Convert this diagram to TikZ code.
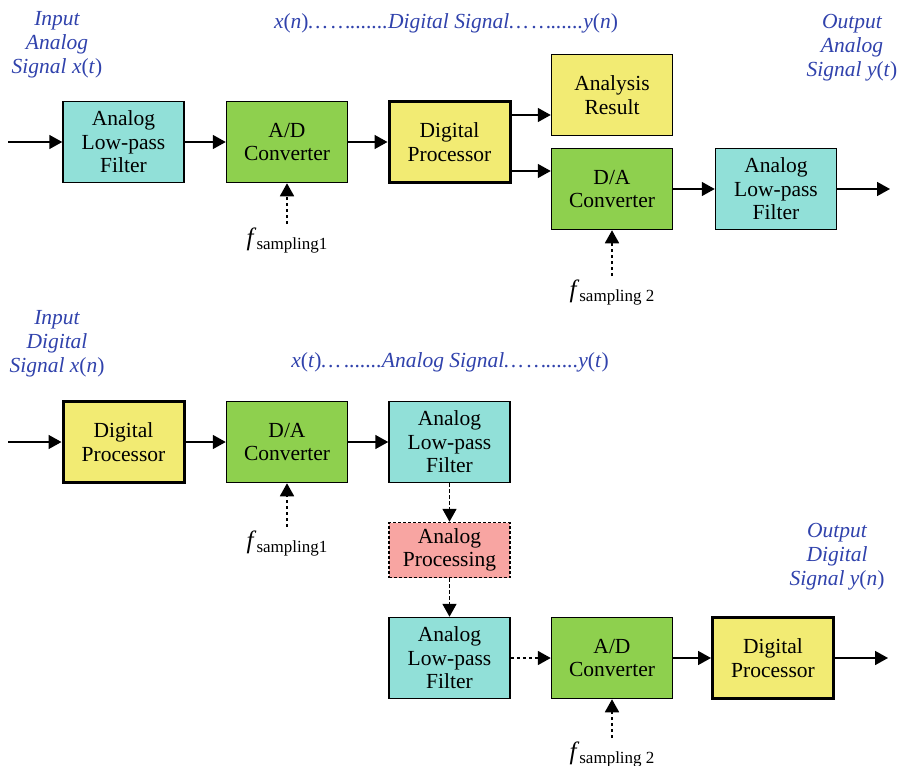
\documentclass[tikz,border=0pt]{standalone}
\usepackage{fontspec}
\setmainfont{Liberation Serif}
\usetikzlibrary{arrows.meta}

\definecolor{lpfcol}{RGB}{145,224,216}
\definecolor{convcol}{RGB}{142,208,78}
\definecolor{dspcol}{RGB}{242,235,115}
\definecolor{procol}{RGB}{248,165,162}
\definecolor{sigblue}{RGB}{48,66,172}

\newcommand\sigof[2]{\textit{#1}\textup{(}\textit{#2}\textup{)}}
\newcommand\fsamp[1]{{\fontsize{25}{25}\selectfont\textit{f}}\raisebox{-4pt}{\fontsize{17}{17}\selectfont sampling#1}}

\begin{document}
\begin{tikzpicture}[x=1pt, y=-1pt, >={Triangle[length=13pt,width=14pt]},
  blk/.style={draw, line width=1.5pt, minimum width=121pt, minimum height=81pt,
    inner sep=0pt, align=center, font=\fontsize{21.5}{23.5}\selectfont},
  lpf/.style={blk, fill=lpfcol},
  conv/.style={blk, fill=convcol},
  dsp/.style={blk, fill=dspcol, line width=3pt},
  apro/.style={blk, fill=procol, minimum height=55pt, dash pattern=on 3pt off 2pt},
  sig/.style={text=sigblue, align=center, font=\fontsize{21.5}{24}\selectfont\itshape},
  flow/.style={line width=1.6pt, ->},
  dflow/.style={flow, line width=1.8pt, dash pattern=on 3.5pt off 2.5pt},
  samp/.style={inner sep=4pt}]
\useasboundingbox (0,0) rectangle (900,766);

% analog in -> digital processing -> analog out
\node (lpf1) at (123.5,142) [lpf] {Analog\\Low-pass\\Filter};
\node (ad1) at (287,142) [conv] {A/D\\Converter};
\node (dp1) at (449.5,142) [dsp] {Digital\\Processor};
\node (res) at (612,95) [blk, fill=dspcol] {Analysis\\Result};
\node (da1) at (612,189) [conv] {D/A\\Converter};
\node (lpf2) at (776,189) [lpf] {Analog\\Low-pass\\Filter};

\node (inA) at (57,45) [sig] {Input\\Analog\\Signal \sigof{x}{t}};
\node (outA) at (852,48) [sig] {Output\\Analog\\Signal \sigof{y}{t}};
\node (dsig) at (446,23) [sig] {\sigof{x}{n}\dots\,\dots.......Digital Signal\dots\,\dots......\sigof{y}{n}};

\node (fs1) at (287,241) [samp] {\fsamp{1}};
\node (fs2) at (612,293) [samp] {\fsamp{ 2}};

\coordinate (in1) at (8,142);
\coordinate (out1) at (890,189);
\coordinate (dpa) at ([yshift=-15pt]dp1.north east);
\coordinate (dpb) at ([yshift=13pt]dp1.south east);

\draw[flow] (in1) -- (lpf1);
\draw[flow] (lpf1) -- (ad1);
\draw[flow] (ad1) -- (dp1);
\draw[flow] (dpa) -- (dpa -| res.west);
\draw[flow] (dpb) -- (dpb -| da1.west);
\draw[flow] (da1) -- (lpf2);
\draw[flow] (lpf2) -- (out1);
\draw[dflow] (fs1.north) -- (ad1.south);
\draw[dflow] (fs2.north) -- (da1.south);

% digital in -> analog processing -> digital out
\node (dp2) at (123.5,442) [dsp] {Digital\\Processor};
\node (da2) at (287,442) [conv] {D/A\\Converter};
\node (lpf3) at (449.5,442) [lpf] {Analog\\Low-pass\\Filter};
\node (ap) at (449.5,550) [apro] {Analog\\Processing};
\node (lpf4) at (449.5,658) [lpf] {Analog\\Low-pass\\Filter};
\node (ad2) at (612,658) [conv] {A/D\\Converter};
\node (dp3) at (773,658) [dsp] {Digital\\Processor};

\node (inD) at (57,344) [sig] {Input\\Digital\\Signal \sigof{x}{n}};
\node (outD) at (837,557) [sig] {Output\\Digital\\Signal \sigof{y}{n}};
\node (asig) at (450,362) [sig] {\sigof{x}{t}\dots\,.......Analog Signal\dots\,\dots......\sigof{y}{t}};

\node (fs3) at (287,544) [samp] {\fsamp{1}};
\node (fs4) at (612,755) [samp] {\fsamp{ 2}};

\coordinate (in2) at (8,442);
\coordinate (out2) at (888,658);

\draw[flow] (in2) -- (dp2);
\draw[flow] (dp2) -- (da2);
\draw[flow] (da2) -- (lpf3);
\draw[dflow] (lpf3) -- (ap);
\draw[dflow] (ap) -- (lpf4);
\draw[dflow] (lpf4) -- (ad2);
\draw[flow] (ad2) -- (dp3);
\draw[flow] (dp3) -- (out2);
\draw[dflow] (fs3.north) -- (da2.south);
\draw[dflow] (fs4.north) -- (ad2.south);
\end{tikzpicture}
\end{document}
